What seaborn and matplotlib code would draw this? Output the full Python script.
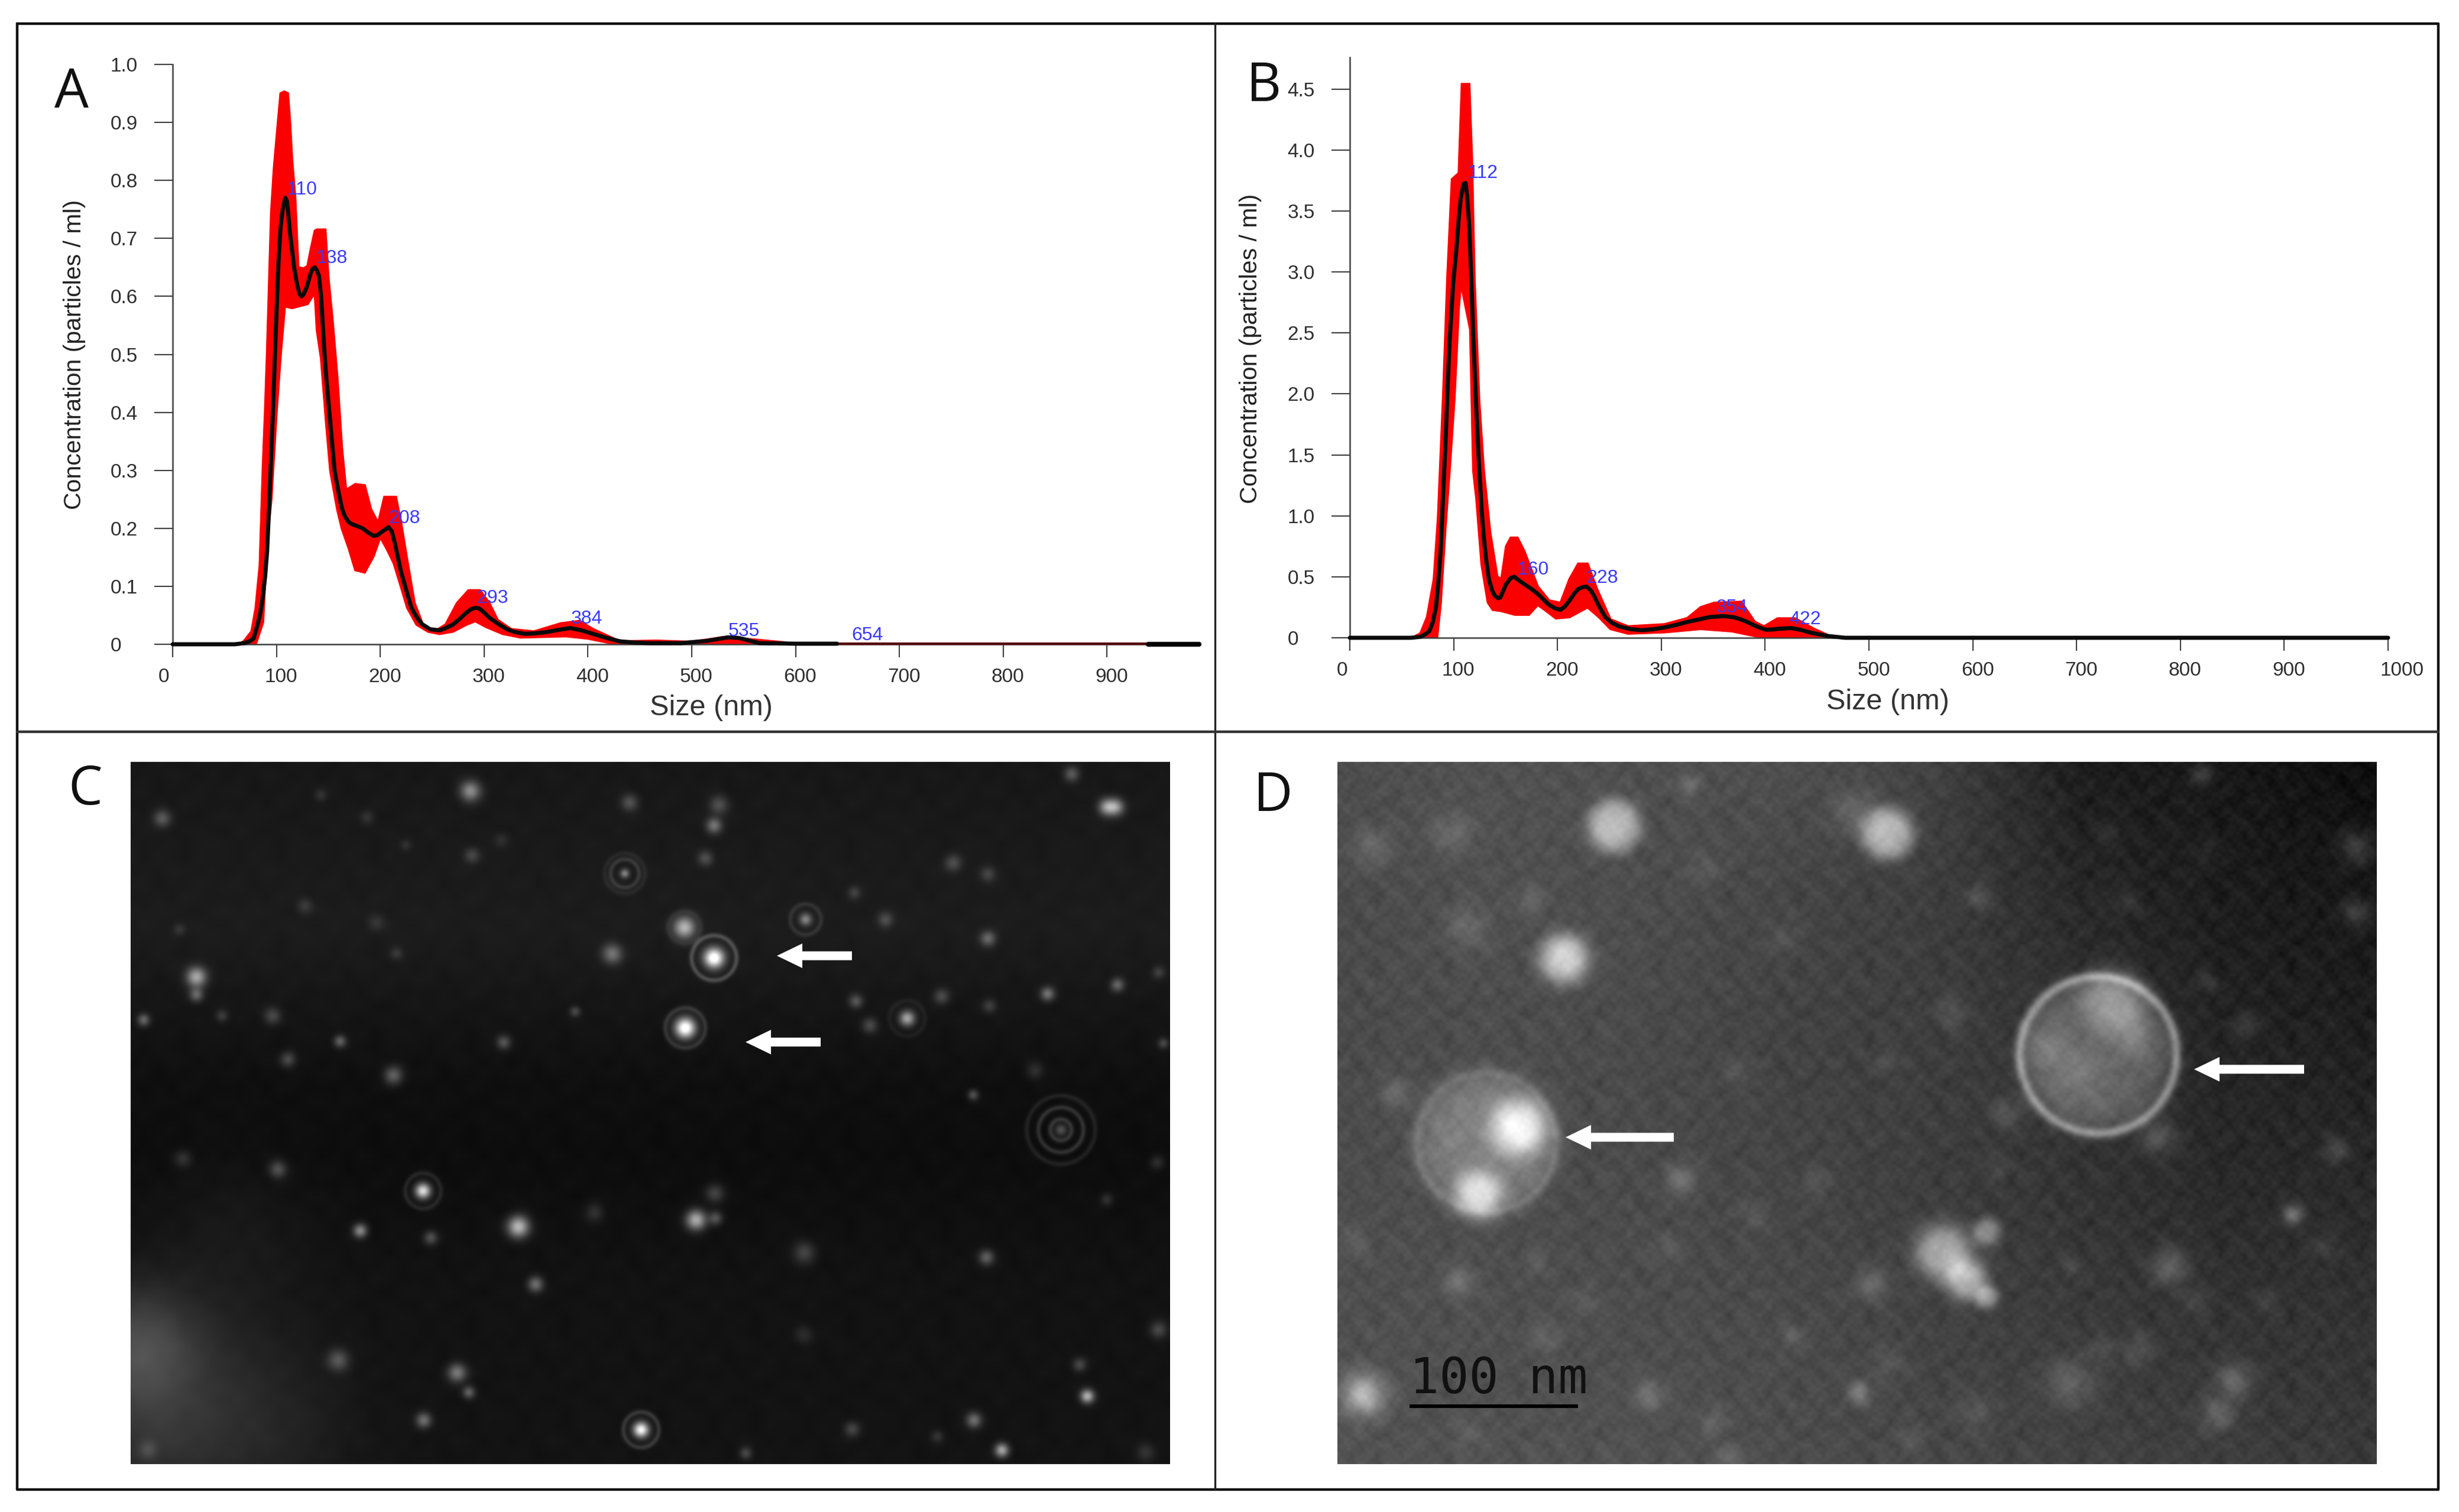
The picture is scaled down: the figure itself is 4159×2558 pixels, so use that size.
import numpy as np
import matplotlib
matplotlib.use("Agg")
import matplotlib.pyplot as plt
from matplotlib.transforms import ScaledTranslation
import seaborn as sns

W, H = 4159, 2558

# Panel A: mean curve and red error band
size_a = [0, 60, 69, 74, 78, 82, 84, 86, 89, 91, 93, 95, 97, 100, 102, 104, 106, 108.5, 110, 111.5, 113, 115, 117, 120, 122, 124, 126, 129, 133, 135, 137, 139, 141, 143, 146, 148, 150, 153, 156, 159, 163, 166,
          170, 173, 176, 183, 188, 193.5, 197, 200, 204, 208, 211, 214, 217, 220, 224, 230, 235, 240, 248, 257, 263, 270, 276, 282, 287, 291.5, 295, 298, 305, 313, 322, 330, 339.5, 350, 360, 372, 383, 394, 405,
          418, 431, 445, 460, 490, 515, 525, 535, 545, 550, 565, 600, 640]
conc_a = [0, 0, 0.002, 0.005, 0.01, 0.035, 0.05, 0.07, 0.115, 0.16, 0.24, 0.33, 0.42, 0.57, 0.66, 0.72, 0.75, 0.77, 0.765, 0.74, 0.71, 0.68, 0.65, 0.62, 0.605, 0.60, 0.603, 0.615, 0.64, 0.648, 0.65, 0.645, 0.635, 0.60, 0.51, 0.46, 0.42, 0.36, 0.30, 0.27, 0.235, 0.22,
          0.21, 0.207, 0.205, 0.20, 0.193, 0.187, 0.188, 0.192, 0.197, 0.202, 0.195, 0.175, 0.15, 0.125, 0.10, 0.063, 0.047, 0.035, 0.026, 0.024, 0.028, 0.034, 0.043, 0.053, 0.06, 0.063, 0.062, 0.058, 0.046, 0.036, 0.026, 0.021, 0.018, 0.019, 0.021, 0.025, 0.028, 0.024, 0.018,
          0.011, 0.005, 0.003, 0.002, 0.002, 0.006, 0.009, 0.012, 0.011, 0.009, 0.002, 0.001, 0.001]
size_a_up = [65, 69, 76, 80, 84, 85.5, 87, 89, 91, 95, 97.6, 100.7, 104, 107.6, 111, 113, 115, 118, 121, 126, 130, 133, 137, 139, 147, 150, 154, 158.6, 163, 167, 176, 185,
             191, 198, 204, 215, 220, 226, 233, 241, 252, 263, 274, 285, 296, 305, 313, 326, 348, 374, 392, 405, 427, 435, 466, 500, 530, 560, 590]
conc_a_up = [0, 0.006, 0.022, 0.062, 0.136, 0.22, 0.306, 0.396, 0.50, 0.745, 0.82, 0.884, 0.95, 0.953, 0.95, 0.90, 0.835, 0.77, 0.65, 0.648, 0.652, 0.68, 0.713, 0.715, 0.715, 0.632, 0.558, 0.46, 0.339, 0.266, 0.276, 0.274,
             0.233, 0.209, 0.254, 0.254, 0.209, 0.144, 0.071, 0.034, 0.022, 0.034, 0.071, 0.093, 0.093, 0.071, 0.042, 0.026, 0.022, 0.036, 0.04, 0.026, 0.008, 0.005, 0.006, 0.004, 0.012, 0.008, 0.003]
size_a_low = [590, 560, 500, 466, 427, 422, 400, 379, 335, 318, 302, 291.5, 283, 270, 257, 246, 235, 226, 220, 213, 206.5, 200, 193.5, 185, 176, 170, 163, 158.6, 152,
              148, 143, 139, 137, 130, 115, 108, 104, 100, 95, 91, 87, 80, 71, 65]
conc_a_low = [0, 0, 0, 0, 0, 0.002, 0.01, 0.014, 0.012, 0.018, 0.03, 0.04, 0.034, 0.022, 0.018, 0.022, 0.034, 0.063, 0.099, 0.14, 0.164, 0.185, 0.152, 0.124, 0.128, 0.164, 0.20, 0.233, 0.298,
              0.38, 0.493, 0.542, 0.607, 0.587, 0.58, 0.583, 0.50, 0.40, 0.25, 0.176, 0.038, 0, 0, 0]
size_a_tail = [640, 940]
conc_a_tail = [0.001, 0.001]
size_a_end = [940, 988.7]
conc_a_end = [0, 0]
peak_a_x = [110, 138, 208, 293, 384, 535, 654]
peak_a_y = [0.776, 0.658, 0.209, 0.071, 0.036, 0.014, 0.007]

# Panel B
size_b = [0, 59, 68, 72, 76.6, 80, 83, 85, 87.5, 90, 92, 94, 96, 99.5, 103, 105, 107, 109.5, 111.5, 113, 115, 117, 119, 122, 124.5, 127, 129, 131.5, 134, 137, 140, 143, 145, 148, 150.6, 155, 158.5, 163, 168,
          175, 181, 187, 192, 198, 203, 207, 211.6, 216, 220, 224, 228, 232, 235.5, 240, 246, 252, 259.5, 270, 281, 292, 303, 314, 325, 336, 346.6, 360, 370, 377, 384, 390, 396, 401, 407, 412, 425, 434, 442, 451, 460, 477, 1000]
conc_b = [0, 0, 0.008, 0.025, 0.054, 0.13, 0.25, 0.43, 0.71, 1.2, 1.56, 2.0, 2.41, 2.9, 3.22, 3.45, 3.61, 3.72, 3.73, 3.62, 3.38, 2.95, 2.45, 1.85, 1.41, 1.05, 0.83, 0.63, 0.48, 0.39, 0.34, 0.325, 0.33, 0.39, 0.44, 0.49, 0.50, 0.47, 0.44,
          0.40, 0.36, 0.31, 0.27, 0.24, 0.23, 0.255, 0.305, 0.36, 0.40, 0.415, 0.42, 0.39, 0.34, 0.26, 0.17, 0.125, 0.093, 0.072, 0.062, 0.07, 0.085, 0.105, 0.13, 0.15, 0.17, 0.178, 0.168, 0.15, 0.125, 0.10, 0.08, 0.066, 0.068, 0.073, 0.08, 0.066, 0.046, 0.03, 0.015, 0, 0]
size_b_up = [60, 68, 74.5, 81, 85, 90, 94, 98.4, 105, 108, 115, 117.6, 120, 124.5, 129, 135, 142, 146, 150.6, 155, 161.5, 168, 181, 192, 203, 211.6, 220, 229,
             238, 251, 268, 303, 325, 338, 351, 377, 390, 399, 412, 429, 447, 464, 480]
conc_b_up = [0, 0.035, 0.17, 0.48, 0.98, 1.99, 2.95, 3.76, 3.81, 4.54, 4.54, 3.92, 2.95, 1.95, 1.37, 0.87, 0.50, 0.48, 0.75, 0.82, 0.82, 0.71, 0.42, 0.305, 0.286, 0.48, 0.607, 0.607,
             0.40, 0.15, 0.093, 0.11, 0.16, 0.25, 0.286, 0.294, 0.13, 0.093, 0.158, 0.158, 0.073, 0.008, 0]
size_b_low = [480, 455, 434, 394, 368, 338, 303, 268, 251, 240, 229, 211.6, 198.5, 187.7, 181, 172.4, 159, 146, 137.6, 133, 127, 122, 119, 116, 107, 105, 100.6, 96, 92, 87.5, 84, 60]
conc_b_low = [0, 0, 0.008, 0.008, 0.054, 0.073, 0.046, 0.035, 0.073, 0.17, 0.25, 0.17, 0.16, 0.23, 0.27, 0.19, 0.19, 0.22, 0.23, 0.29, 0.60, 1.14, 1.37, 2.53, 2.91, 2.72, 1.95, 1.37, 0.90, 0.286, 0, 0]
peak_b_x = [113.6, 161.5, 228, 353, 423]
peak_b_y = [3.77, 0.518, 0.452, 0.21, 0.11]
peak_b_lab = [112, 160, 228, 354, 422]

xticks_a = [0, 100, 200, 300, 400, 500, 600, 700, 800, 900]
xticks_b = [0, 100, 200, 300, 400, 500, 600, 700, 800, 900, 1000]
yticks_a = [0, 0.1, 0.2, 0.3, 0.4, 0.5, 0.6, 0.7, 0.8, 0.9, 1.0]
yticks_b = [0, 0.5, 1.0, 1.5, 2.0, 2.5, 3.0, 3.5, 4.0, 4.5]

# Panel C: particles seen in the tracking frame
c_x = [919, 882, 825, 881, 544, 667, 896, 1168, 252, 1437, 1425, 605, 804, 1037, 1366, 1272, 1349, 1439, 1400, 1290, 1254, 1270, 1097, 1035, 1492, 1390,
       588, 603, 545, 689, 463, 554, 357, 235, 506, 370, 437, 350, 285, 184, 648, 740, 788, 919, 925, 810, 208, 607, 908, 1227, 1272, 1140, 1380, 1253,
       1102, 1120, 1212, 1274, 1333, 920, 921, 765, 435, 960, 1207, 1490, 1498, 1492, 392, 484, 230, 1100, 1035, 1425, 1475, 190, 510, 252, 472, 412, 522, 645]
c_y = [461, 601, 1405, 400, 927, 999, 985, 582, 499, 159, 159, 127, 292, 384, 805, 422, 533, 515, 1338, 1446, 1386, 1060, 1404, 1050, 1205, 1275,
       1291, 1330, 1386, 1114, 1007, 1021, 884, 863, 696, 664, 628, 577, 577, 585, 630, 568, 453, 196, 155, 150, 182, 256, 262, 271, 293, 385, 93, 735,
       548, 596, 538, 557, 687, 932, 982, 970, 1266, 1452, 1418, 870, 632, 490, 357, 390, 404, 330, 1215, 945, 1450, 1445, 452, 535, 180, 135, 235, 225]
c_amp = [1.0, 1.0, 0.9, 0.6, 0.8, 0.65, 0.6, 0.55, 0.55, 0.45, 0.45, 0.45, 0.4, 0.4, 0.25, 0.3, 0.35, 0.3, 0.6, 0.55, 0.35, 0.3, 0.2, 0.2, 0.2, 0.2,
         0.4, 0.3, 0.35, 0.35, 0.45, 0.25, 0.25, 0.13, 0.3, 0.22, 0.3, 0.2, 0.15, 0.3, 0.25, 0.2, 0.35, 0.35, 0.22, 0.22, 0.25, 0.18, 0.2, 0.2, 0.17, 0.2, 0.25, 0.25,
         0.25, 0.2, 0.2, 0.15, 0.12, 0.2, 0.25, 0.13, 0.25, 0.2, 0.12, 0.12, 0.2, 0.15, 0.12, 0.1, 0.1, 0.15, 0.1, 0.12, 0.12, 0.12, 0.12, 0.3, 0.1, 0.1, 0.08, 0.08]
c_r = [13, 13, 10, 14, 10, 14, 13, 10, 13, 11, 11, 13, 6, 8, 8, 10, 9, 9, 9, 9, 10, 10, 10, 14, 11, 9,
       12, 8, 10, 10, 9, 9, 11, 11, 12, 10, 8, 11, 8, 8, 9, 7, 13, 10, 12, 11, 11, 10, 10, 11, 10, 10, 10, 7,
       9, 10, 10, 9, 11, 12, 9, 12, 14, 8, 8, 9, 7, 8, 10, 11, 8, 8, 12, 8, 12, 12, 8, 9, 9, 8, 7, 9]
ring_x = [919, 882, 825, 544, 804, 804, 1037, 1366, 1366, 1366, 881, 1168]
ring_y = [461, 601, 1405, 927, 292, 292, 384, 805, 805, 805, 400, 582]
ring_amp = [0.2, 0.12, 0.14, 0.09, 0.12, 0.06, 0.09, 0.14, 0.14, 0.08, 0.05, 0.05]
ring_r = [38, 34, 30, 30, 24, 34, 26, 18, 38, 58, 28, 30]
c_haze_x = [175, 260, 190, 340, 300]
c_haze_y = [1240, 1330, 1420, 1420, 1000]
c_haze_amp = [0.2, 0.07, 0.07, 0.04, 0.03]
c_haze_r = [70, 120, 80, 100, 90]
c_bg_y = [70, 400, 700, 850, 1100, 1472]
c_bg_val = [0.09, 0.11, 0.06, 0.05, 0.07, 0.075]

# Panel D: electron micrograph, brightness on a coarse grid and the blobs on it
d_bg = [[0.30, 0.32, 0.31, 0.31, 0.26, 0.11, 0.09, 0.05],
        [0.29, 0.31, 0.30, 0.27, 0.24, 0.16, 0.11, 0.09],
        [0.29, 0.30, 0.29, 0.26, 0.24, 0.20, 0.14, 0.12],
        [0.30, 0.30, 0.29, 0.27, 0.24, 0.20, 0.16, 0.16],
        [0.31, 0.31, 0.30, 0.29, 0.26, 0.23, 0.20, 0.20],
        [0.32, 0.32, 0.32, 0.30, 0.28, 0.26, 0.24, 0.22]]
d_x = [505, 850, 810, 443, 920, 975, 950, 975, 345, 385, 335, 1115, 1135, 1050, 1440, 1440, 1360, 1205, 830, 310, 190, 550, 815, 1080, 1285, 1265, 590, 230,
       320, 200, 300, 600, 1245, 965, 930, 1000, 1190, 1300, 1415, 1250, 630, 650, 420, 1165, 1120, 850, 400, 660, 850, 760, 680, 570, 410, 180, 990, 1080, 1240,
       1400, 1330, 720, 620, 1150, 1250, 1130, 470, 730, 960, 880, 320, 1090, 1160]
d_y = [197, 212, 170, 462, 1050, 1010, 1105, 1140, 830, 800, 935, 655, 545, 640, 240, 370, 975, 1080, 1115, 1110, 1335, 1335, 1330, 1310, 1305, 1375, 905, 730,
       400, 240, 210, 115, 95, 340, 570, 770, 820, 595, 845, 510, 1390, 1460, 1220, 1245, 1245, 1270, 345, 690, 670, 910, 975, 1040, 1070, 1030, 880, 1080, 1150,
       1040, 1150, 420, 280, 350, 250, 215, 1150, 1220, 1370, 1420, 1410, 690, 620]
d_amp = [0.42, 0.44, 0.12, 0.52, 0.42, 0.3, 0.42, 0.3, 0.2, 0.48, 0.42, 0.2, 0.24, 0.1, 0.15, 0.14, 0.25, 0.18, 0.14, 0.14, 0.4, 0.14, 0.2, 0.14, 0.18, 0.15, 0.14, 0.12,
         0.1, 0.1, 0.1, 0.12, 0.15, 0.12, 0.1, 0.12, 0.15, 0.1, 0.12, 0.07, 0.1, 0.12, 0.08, 0.1, 0.08, 0.07, 0.08, 0.06, 0.06, 0.06, 0.06, 0.06, 0.06, 0.06, 0.06, 0.06, 0.06,
         0.06, 0.05, 0.05, 0.05, 0.06, 0.05, 0.05, 0.07, 0.07, 0.07, 0.05, 0.06, 0.08, 0.12]
d_r = [46, 45, 40, 42, 48, 24, 36, 20, 120, 48, 40, 132, 55, 30, 30, 25, 18, 30, 28, 25, 35, 25, 20, 40, 30, 30, 28, 25,
       35, 35, 35, 18, 18, 20, 25, 25, 30, 20, 22, 20, 20, 20, 25, 25, 20, 25, 25, 25, 20, 25, 25, 25, 20, 25, 20, 18, 25,
       22, 22, 30, 30, 22, 22, 20, 22, 22, 30, 25, 22, 40, 35]
d_sharp = [4, 4, 2, 3, 3, 3, 3, 3, 6, 3, 3, 8, 3, 2, 2, 2, 2, 2, 2, 2, 2, 2, 2, 2, 2, 2, 2, 2,
           2, 2, 2, 2, 2, 2, 2, 2, 2, 2, 2, 2, 2, 2, 2, 2, 2, 2, 2, 2, 2, 2, 2, 2, 2, 2, 2, 2, 2,
           2, 2, 2, 2, 2, 2, 2, 2, 2, 2, 2, 2, 2, 2]
rim_x = [1115, 345]
rim_y = [655, 830]
rim_amp = [0.3, 0.08]
rim_r = [133, 118]

# grain of the micrograph, as two small repeated patches
grain_coarse = [[2, -3, 4, -1, -4, 3, 0], [-4, 1, -2, 5, 2, -3, 3], [3, 4, -5, 0, -2, 4, -1], [-1, -3, 2, -4, 5, 1, -3],
                [4, 0, 3, 2, -3, -5, 2], [-3, 5, -1, -4, 1, 3, -2], [1, -2, 0, 3, -5, 2, 4]]
grain_fine = [[3, -2, 1, -4, 2], [-1, 4, -3, 2, -2], [2, -4, 3, 1, -3], [-3, 1, -2, 4, 0], [1, 3, -1, -2, 4]]


def px_axes(fig, x0, y_bottom, x1, y_top):
    return fig.add_axes([x0 / W, 1 - y_bottom / H, (x1 - x0) / W, (y_bottom - y_top) / H])


def nta_panel(ax, xticks, yticks, xmax, ymax, first_shift, last_shift):
    ax.set_xlim(0, xmax)
    ax.set_ylim(0, ymax)
    sns.despine(ax=ax)
    for side in ["left", "bottom"]:
        ax.spines[side].set_linewidth(1.8)
        ax.spines[side].set_color("#404040")
    ax.set_xticks(xticks)
    ax.set_yticks(yticks)
    ax.set_xticklabels([str(t) for t in xticks])
    ax.set_yticklabels(["0" if t == 0 else f"{t:.1f}" for t in yticks])
    ax.tick_params(axis="x", length=16, width=1.5, color="#404040", pad=13, labelsize=24, labelcolor="#2e2e2e", bottom=True)
    ax.tick_params(axis="y", length=22, width=1.5, color="#404040", pad=54, labelsize=24, labelcolor="#2e2e2e", left=True)
    for lab in ax.get_yticklabels():
        lab.set_ha("left")
    for i, lab in enumerate(ax.get_xticklabels()):
        dx = first_shift if i == 0 else 8
        if last_shift and i == len(xticks) - 1:
            dx = last_shift
        lab.set_transform(lab.get_transform() + ScaledTranslation(dx / 100, 0, fig.dpi_scale_trans))


def patch_tile(patch, cell, XX, YY):
    t = np.array(patch, dtype=float)
    n, m = t.shape
    u, v = XX / cell, YY / cell
    i, j = np.floor(v).astype(int), np.floor(u).astype(int)
    fv, fu = v - i, u - j
    return ((1 - fv) * (1 - fu) * t[i % n, j % m] + (1 - fv) * fu * t[i % n, (j + 1) % m]
            + fv * (1 - fu) * t[(i + 1) % n, j % m] + fv * fu * t[(i + 1) % n, (j + 1) % m])


sns.set_theme(style="white")
plt.rcParams["font.family"] = ["Liberation Sans", "DejaVu Sans"]

fig = plt.figure(figsize=(W / 100, H / 100), dpi=100, facecolor="white")

# A
ax_a = px_axes(fig, 292, 1090, 2028, 109)
ax_a.fill(size_a_up + size_a_low, conc_a_up + conc_a_low, color="#fb0000", lw=3, zorder=2)
sns.lineplot(x=size_a_tail, y=conc_a_tail, color="#5a0a0a", lw=3, ax=ax_a, estimator=None, sort=False, zorder=3)
sns.lineplot(x=size_a, y=conc_a, color="#0a0a0a", lw=5, ax=ax_a, estimator=None, sort=False, zorder=4)
sns.lineplot(x=size_a_end, y=conc_a_end, color="black", lw=6, ax=ax_a, estimator=None, sort=False, zorder=4)
nta_panel(ax_a, xticks_a, yticks_a, 988.7, 1.0, -15, 0)
for px, py in zip(peak_a_x, peak_a_y):
    ax_a.text(px, py, str(px), color="#3a3aff", fontsize=23, ha="left", va="baseline", zorder=5)
ax_a.set_xlabel("Size (nm)", fontsize=35, color="#333333", va="center")
ax_a.xaxis.set_label_coords((1203 - 292) / 1736, -(1197 - 1090) / 981)
ax_a.set_ylabel("Concentration (particles / ml)", fontsize=29.5, color="#222222", va="center")
ax_a.yaxis.set_label_coords((126 - 292) / 1736, (1090 - 600) / 981)

# B
ax_b = px_axes(fig, 2283, 1079, 4039, 97)
ax_b.fill(size_b_up + size_b_low, conc_b_up + conc_b_low, color="#fb0000", lw=3, zorder=2)
sns.lineplot(x=size_b, y=conc_b, color="#0a0a0a", lw=5, ax=ax_b, estimator=None, sort=False, zorder=4)
nta_panel(ax_b, xticks_b, yticks_b, 1000, 4.76, -13, 24)
for px, py, lab in zip(peak_b_x, peak_b_y, peak_b_lab):
    ax_b.text(px, py, str(lab), color="#3a3aff", fontsize=23, ha="left", va="baseline", zorder=5)
ax_b.set_xlabel("Size (nm)", fontsize=35, color="#333333", va="center")
ax_b.xaxis.set_label_coords((3193 - 2283) / 1756, -(1187 - 1079) / 982)
ax_b.set_ylabel("Concentration (particles / ml)", fontsize=29.5, color="#222222", va="center")
ax_b.yaxis.set_label_coords((2115 - 2283) / 1756, (1079 - 590) / 982)

for ax in [ax_a, ax_b]:
    for line in ax.lines:
        line.set_clip_on(False)

# C: spots rendered on a grid in real pixels
cols, rows = 879, 594
gx = np.linspace(0, 1758, cols)
gy = np.linspace(0, 1188, rows)
XX, YY = np.meshgrid(gx, gy)
img_c = np.interp(gy, np.array(c_bg_y) * 0.847 - 70 * 0.847, c_bg_val)[:, None] * np.ones(cols)
for x, y, a, r in zip(c_haze_x, c_haze_y, c_haze_amp, c_haze_r):
    img_c += a * np.exp(-(((XX - (x - 168) * 1.314) ** 2 + (YY - (y - 70) * 0.847) ** 2) / (2 * r ** 2)))
for x, y, a, r in zip(c_x, c_y, c_amp, c_r):
    d2 = (XX - (x - 168) * 1.314) ** 2 + (YY - (y - 70) * 0.847) ** 2
    img_c += a * np.exp(-d2 / (2 * (r * 0.9) ** 2))
for x, y, a, r in zip(ring_x, ring_y, ring_amp, ring_r):
    d = np.hypot(XX - (x - 168) * 1.314, YY - (y - 70) * 0.847)
    img_c += a * np.exp(-((d - r) ** 2) / (2 * 3.0 ** 2))
img_c += 0.002 * patch_tile(grain_coarse, 23, XX, YY)

ax_c = px_axes(fig, 221, 2477, 1979, 1289)
sns.heatmap(np.clip(img_c, 0, 1), cmap="gray", vmin=0, vmax=1, cbar=False, xticklabels=False, yticklabels=False, ax=ax_c, rasterized=True)

# D
bg = np.array(d_bg)
col_pos = np.linspace(0, 1758, bg.shape[1])
row_pos = np.linspace(0, 1188, bg.shape[0])
by_col = np.array([np.interp(gy, row_pos, bg[:, j]) for j in range(bg.shape[1])])
img_d = np.array([np.interp(gx, col_pos, by_col[:, i]) for i in range(rows)])
for x, y, a, r, p in zip(d_x, d_y, d_amp, d_r, d_sharp):
    d = np.hypot(XX - (x - 158) * 1.345, YY - (y - 70) * 0.847)
    img_d += a * np.exp(-((d / r) ** p))
for x, y, a, r in zip(rim_x, rim_y, rim_amp, rim_r):
    d = np.hypot(XX - (x - 158) * 1.345, YY - (y - 70) * 0.847)
    img_d += a * np.exp(-((d - r) ** 2) / (2 * 6.0 ** 2))
img_d += 0.006 * patch_tile(grain_coarse, 17, XX, YY) + 0.005 * patch_tile(grain_fine, 13, XX, YY) + 0.004 * patch_tile(grain_coarse[::-1], 6, XX, YY)

ax_d = px_axes(fig, 2262, 2477, 4020, 1289)
sns.heatmap(np.clip(img_d, 0, 1), cmap="gray", vmin=0, vmax=1, cbar=False, xticklabels=False, yticklabels=False, ax=ax_d, rasterized=True)

# overlay in pixel coordinates: frame, panel letters, arrows, scale bar
top = fig.add_axes([0, 0, 1, 1], facecolor="none", zorder=10)
top.set_xlim(0, W)
top.set_ylim(H, 0)
top.axis("off")
top.plot([29, 4124, 4124, 29, 29], [40, 40, 2520, 2520, 40], color="#111111", lw=3.2)
top.plot([2055, 2055], [40, 2520], color="#222222", lw=2.4)
top.plot([29, 4124], [1238, 1238], color="#333333", lw=3.2)

for s, x, y in [("A", 92, 182), ("B", 2108, 171), ("C", 115, 1361), ("D", 2120, 1372)]:
    top.text(x, y, s, fontsize=66, color="#111111", family=["Open Sans", "DejaVu Sans"], ha="left", va="baseline")

for tip_x, tail_x, y in [(1314, 1441, 1617), (1261, 1388, 1763), (2648, 2831, 1924), (3711, 3897, 1809)]:
    top.annotate("", xy=(tip_x, y), xytext=(tail_x, y),
                 arrowprops=dict(width=10.8, headwidth=30, headlength=31, facecolor="white", edgecolor="none", shrink=0, lw=0))

top.plot([2384, 2669], [2379, 2379], color="black", lw=4.5, solid_capstyle="butt")
top.text(2384, 2357, "100 nm", fontsize=60, color="#111111", family=["DejaVu Sans Mono", "DejaVu Sans"], ha="left", va="baseline")

fig.savefig("out.png", dpi=100)
